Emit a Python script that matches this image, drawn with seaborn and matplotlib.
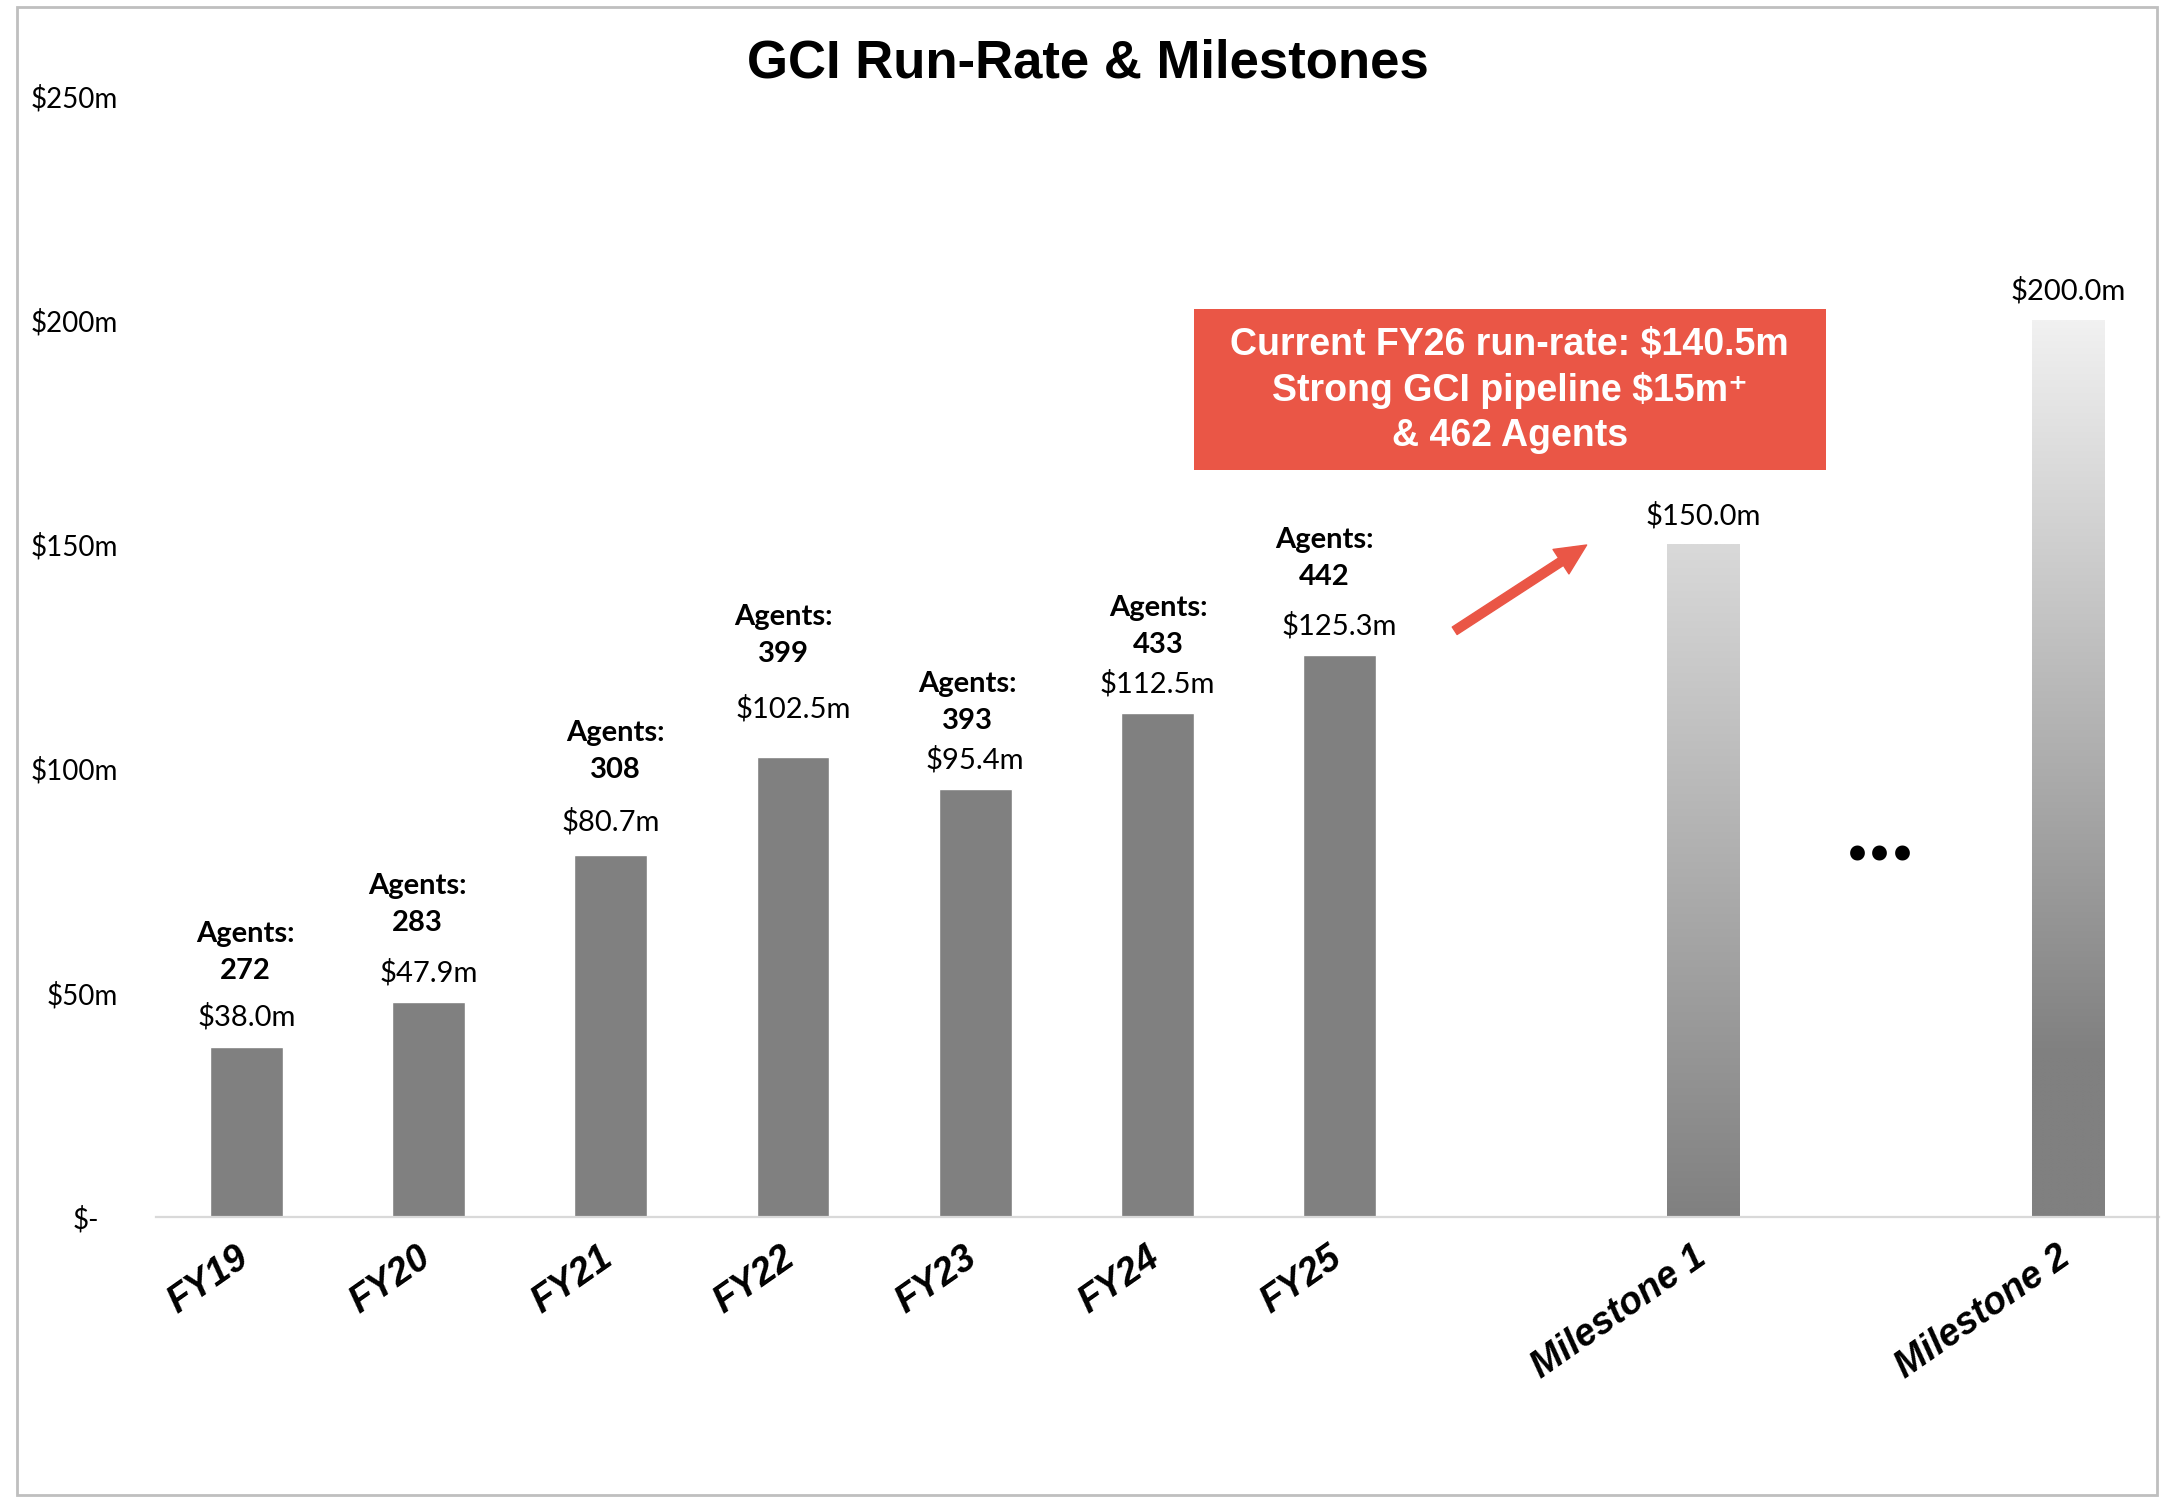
import numpy as np
import pandas as pd
import matplotlib
matplotlib.use("Agg")
import matplotlib.pyplot as plt
import matplotlib.transforms as mtransforms
from matplotlib.patches import Rectangle, FancyArrowPatch
import seaborn as sns

# ---- data ----
categories = ["FY19", "FY20", "FY21", "FY22", "FY23", "FY24", "FY25",
              "", "Milestone 1", " ", "Milestone 2"]
run_rate = [38.0, 47.9, 80.7, 102.5, 95.4, 112.5, 125.3,
            np.nan, 150.0, np.nan, 200.0]
agents = [272, 283, 308, 399, 393, 433, 442]
y_ticks = [0, 50, 100, 150, 200, 250]
y_tick_labels = ["$-", "$50m", "$100m", "$150m", "$200m", "$250m"]
title = "GCI Run-Rate & Milestones"
callout_lines = ["Current FY26 run-rate: $140.5m",
                 "Strong GCI pipeline $15m\u207a",
                 "& 462 Agents"]

# ---- style ----
sns.set_style("white")
plt.rcParams["font.family"] = ["Lato", "DejaVu Sans"]
plt.rcParams["text.color"] = "black"
plt.rcParams["xtick.color"] = "black"
plt.rcParams["ytick.color"] = "black"
BAR_GREY = "#808080"
RED = "#EA5646"
ARIAL = ["Liberation Sans", "DejaVu Sans"]

df = pd.DataFrame({"category": categories, "value": run_rate})

fig = plt.figure(figsize=(21.79, 15.02), dpi=100)
ax = fig.add_axes([155.6 / 2179, 1 - 1217 / 1502,
                   (2159 - 155.6) / 2179, (1217 - 96) / 1502])

sns.barplot(data=df, x="category", y="value", order=categories,
            color=BAR_GREY, width=0.4, saturation=1, ax=ax, errorbar=None)

# gradient fill for the milestone bars
grad_stops = {"Milestone 1": [(0.0, 128), (1.0, 217)],
              "Milestone 2": [(0.0, 128), (0.18, 128), (1.0, 241)]}
for patch in ax.patches:
    xc = patch.get_x() + patch.get_width() / 2
    cat = categories[int(round(xc))]
    if cat in grad_stops:
        h = patch.get_height()
        t = np.linspace(0, 1, 256)
        fr, gv = zip(*grad_stops[cat])
        g = np.interp(t, fr, gv) / 255.0
        img = np.dstack([g, g, g]).reshape(256, 1, 3)
        im = ax.imshow(img, extent=[patch.get_x(), patch.get_x() + patch.get_width(), 0, h],
                       origin="lower", aspect="auto", zorder=patch.get_zorder() + 0.1,
                       interpolation="bilinear")
        im.set_clip_path(patch)
        patch.set_facecolor("none")
        patch.set_edgecolor("none")
ax.set_xlim(-0.5, len(categories) - 0.5)
ax.set_ylim(0, 250)

# axes styling
for s in ["top", "right", "left"]:
    ax.spines[s].set_visible(False)
ax.spines["bottom"].set_color("#D9D9D9")
ax.spines["bottom"].set_linewidth(1.6)
ax.set_xlabel("")
ax.set_ylabel("")
ax.tick_params(axis="both", length=0)
ax.set_yticks(y_ticks)
ax.set_yticklabels([t.replace("$", r"\$") for t in y_tick_labels], fontsize=20, color="black")
ax.tick_params(axis="y", pad=27)
# the zero label sits a little further left
zero_lbl = ax.get_yticklabels()[0]
zero_lbl.set_transform(zero_lbl.get_transform() +
                       mtransforms.ScaledTranslation(-0.19, 0, fig.dpi_scale_trans))

ax.set_xticks(range(len(categories)))
ax.set_xticklabels(categories, rotation=35, ha="right", rotation_mode="anchor",
                   fontsize=27, fontweight="bold", fontstyle="italic", family=ARIAL,
                   color="black")
ax.tick_params(axis="x", pad=16)
shift = mtransforms.ScaledTranslation(-0.12, 0, fig.dpi_scale_trans)
for lbl in ax.get_xticklabels():
    lbl.set_transform(lbl.get_transform() + shift)

# value labels above bars
val_lift = [30, 29, 33, 49, 29, 29, 29, None, 29, None, 29]
for i, v in enumerate(run_rate):
    if np.isnan(v):
        continue
    ax.annotate(r"\$" + f"{v:.1f}m", (i, v), xytext=(0, val_lift[i]),
                textcoords="offset pixels", ha="center", va="center",
                fontsize=21, color="black")

# agent counts above the historical bars
agent_lift = [76, 79, 85, 103, 68, 68, 78]
agent_dx = [-1, -11, 4, -10, -8, 1, -15]
for i, a in enumerate(agents):
    v = run_rate[i]
    ax.annotate(f"{a}", (i, v), xytext=(agent_dx[i], agent_lift[i]),
                textcoords="offset pixels", ha="center", va="center",
                fontsize=21, fontweight="bold", color="black")
    ax.annotate("Agents:", (i, v), xytext=(agent_dx[i], agent_lift[i] + 37),
                textcoords="offset pixels", ha="center", va="center",
                fontsize=21, fontweight="bold", color="black")

# callout box
ax.add_patch(Rectangle((5.2, 166.7), 8.67 - 5.2, 202.6 - 166.7,
                       facecolor=RED, edgecolor="none", zorder=5))
ax.text(6.935, 184.3, "\n".join(l.replace("$", r"\$") for l in callout_lines),
        ha="center", va="center", multialignment="center", linespacing=1.32,
        fontsize=27, fontweight="bold", color="white", family=ARIAL, zorder=6)

# arrow toward the first milestone
arrow = FancyArrowPatch((6.62, 130.4), (7.37, 150.2),
                        arrowstyle="simple,head_length=1.1,head_width=1.05,tail_width=0.32",
                        mutation_scale=20, color=RED, zorder=6)
ax.add_patch(arrow)

# ellipsis between milestones
ax.text(8.97, 79.5, "...", ha="center", va="baseline", fontsize=70,
        fontweight="bold", color="black", family=["Lato", "DejaVu Sans"])

# title
fig.text(1088 / 2179, 1 - 64 / 1502, title, ha="center", va="center",
         fontsize=38, fontweight="bold", color="black", family=ARIAL)

# outer frame
fig.add_artist(Rectangle((17 / 2179, 7 / 1502), (2157 - 17) / 2179, (1495 - 7) / 1502,
                         transform=fig.transFigure, fill=False,
                         edgecolor="#BFBFBF", linewidth=2.0))

fig.savefig("out.png", dpi=100, facecolor="white")
